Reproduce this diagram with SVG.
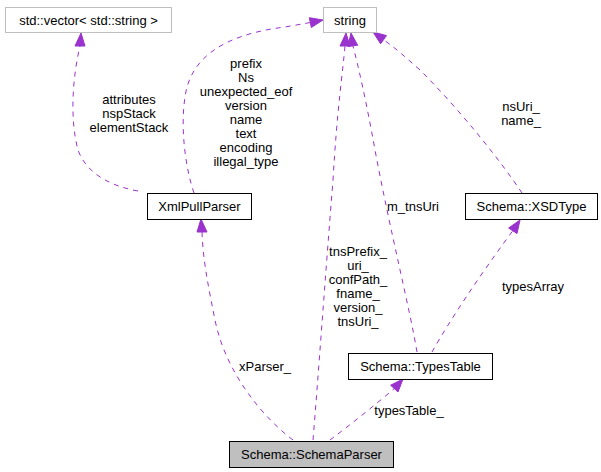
<svg xmlns="http://www.w3.org/2000/svg" width="601" height="472" viewBox="0 0 601 472">
<style>
text{font-family:"Liberation Sans",Arial,sans-serif;font-size:13px;fill:#000;text-anchor:middle}
.box{fill:#fff;stroke:#000;stroke-width:1}
.ext{fill:#fff;stroke:#bfbfbf;stroke-width:1}
.cur{fill:#bfbfbf;stroke:#000;stroke-width:1}
.edge{fill:none;stroke:#9a32cd;stroke-width:1;stroke-dasharray:5,5}
.head{fill:#9a32cd;stroke:#9a32cd;stroke-width:1}
</style>
<rect width="601" height="472" fill="#fff"/>
<g id="edges">
<path class="edge" d="M138,191 C105,185 85,170 78,150 C70,120 72,80 80,46"/>
<polygon class="head" points="81,33 75,46 85,46"/>
<path class="edge" d="M194,193 C186,170 180,130 185,97 C190,60 220,35 285,27 L310,22.6"/>
<polygon class="head" points="323,20 311.3,27.5 309.3,17.7"/>
<path class="edge" d="M293,440 C260,415 225,370 215,320 C208,285 203,260 202,232"/>
<polygon class="head" points="201,219 197,232 207,232"/>
<path class="edge" d="M313,440 C318,380 325,280 333,180 C337,110 343,70 345,46"/>
<polygon class="head" points="346,33 340,46 350,46"/>
<path class="edge" d="M417,352 C410,310 390,230 375,150 C366,100 358,65 353,46"/>
<polygon class="head" points="351,33 357.7,45.2 347.9,46.6"/>
<path class="edge" d="M432,352 C450,320 480,275 512.8,230.8"/>
<polygon class="head" points="520,220 508.6,228 517,233.6"/>
<path class="edge" d="M522,193 C500,160 460,110 420,70 C405,57 398,50 383.5,39.7"/>
<polygon class="head" points="373,32 386.5,35.6 380.6,43.8"/>
<path class="edge" d="M330,440 C350,425 375,405 394.3,388.6"/>
<polygon class="head" points="403,379 390.6,385.2 398,392"/>
<text x="129" y="103.5">attributes</text>
<text x="129" y="117.5">nspStack</text>
<text x="129" y="131.5">elementStack</text>
<text x="246" y="67.5">prefix</text>
<text x="246" y="81.6">Ns</text>
<text x="246" y="95.7">unexpected_eof</text>
<text x="246" y="109.8">version</text>
<text x="246" y="123.9">name</text>
<text x="246" y="138">text</text>
<text x="246" y="152.1">encoding</text>
<text x="246" y="166.2">illegal_type</text>
<text x="265" y="370.5">xParser_</text>
<text x="358" y="255.5">tnsPrefix_</text>
<text x="358" y="269.5">uri_</text>
<text x="358" y="283.5">confPath_</text>
<text x="358" y="297.5">fname_</text>
<text x="358" y="311.5">version_</text>
<text x="358" y="325.5">tnsUri_</text>
<text x="413" y="210.5">m_tnsUri</text>
<text x="533" y="290.5">typesArray</text>
<text x="521" y="111">nsUri_</text>
<text x="521" y="125">name_</text>
<text x="409" y="414.5">typesTable_</text>
</g>
<g id="node-vector">
<rect class="ext" x="5.5" y="7.5" width="166" height="25"/>
<text x="88.5" y="24.5">std::vector&lt; std::string &gt;</text>
</g>
<g id="node-string">
<rect class="ext" x="323.5" y="7.5" width="53" height="25"/>
<text x="350" y="24.5">string</text>
</g>
<g id="node-xmlpullparser">
<rect class="box" x="147.5" y="193.5" width="104" height="26"/>
<text x="199.5" y="211">XmlPullParser</text>
</g>
<g id="node-xsdtype">
<rect class="box" x="465.5" y="193.5" width="132" height="26"/>
<text x="531.5" y="211">Schema::XSDType</text>
</g>
<g id="node-typestable">
<rect class="box" x="348.5" y="353.5" width="144" height="26"/>
<text x="420.5" y="371">Schema::TypesTable</text>
</g>
<g id="node-schemaparser">
<rect class="cur" x="229.5" y="441.5" width="164" height="26"/>
<text x="311.5" y="459">Schema::SchemaParser</text>
</g>
</svg>
